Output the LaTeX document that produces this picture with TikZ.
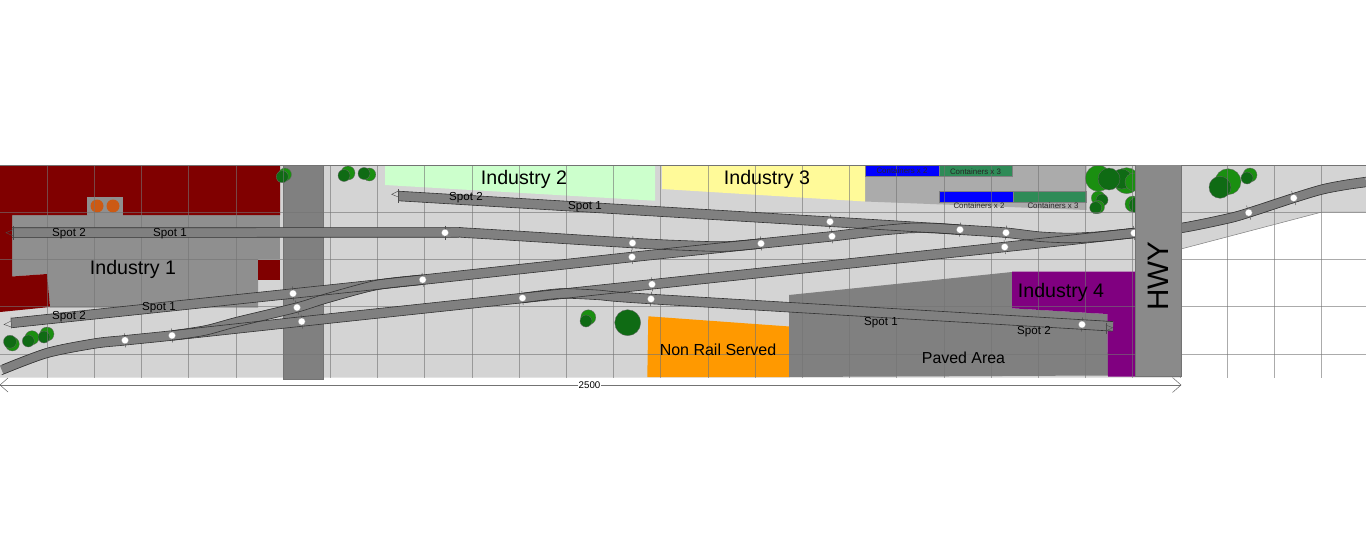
\documentclass[tikz,border=0pt]{standalone}
\usepackage{fontspec}
\setmainfont{Liberation Sans}
\definecolor{gnd}{gray}{.83}
\definecolor{roadA}{gray}{.5}
\definecolor{roadB}{gray}{.54}
\definecolor{bldg}{gray}{.56}
\definecolor{yard}{gray}{.67}
\definecolor{trk}{gray}{.5}
\definecolor{treeD}{HTML}{0F6B14}
\definecolor{treeB}{HTML}{1A8F10}
\definecolor{cgreen}{HTML}{2E8B57}
\definecolor{redB}{HTML}{800000}
\definecolor{purp}{HTML}{800080}
\definecolor{orng}{HTML}{FF9900}
\definecolor{drum}{HTML}{CC5A14}
\tikzset{
  trackfill/.style={draw=trk,line width=9.6pt,line cap=butt},
  trackline/.style={draw=black!80,line width=.6pt},
  gridline/.style={draw=gray!90!black,line width=.8pt,opacity=.6},
  tickline/.style={draw=black!70,line width=.4pt},
  dk/.style={draw=black!60,line width=.3pt,fill=treeD},
  br/.style={draw=black!60,line width=.3pt,fill=treeB},
  lab/.style={inner sep=0pt,font=\fontsize{#1}{#1}\selectfont},
}
\def\pA{plot[smooth,tension=.5] coordinates {(12,232.5) (240,232.5) (445,232.5) (470,233) (632.5,243) (685,245.5) (725,246.5) (761,243.5)}}
\def\pB{plot[smooth,tension=.3] coordinates {(11,323) (293,293.5) (422.7,279.7) (632,257) (761,243.5) (832,236.3) (880,230.5) (910,228) (935,228) (960,229.7)}}
\def\pC{plot[smooth,tension=.4] coordinates {(398.5,196) (830,221.7) (960,229.7) (1006,232.7) (1040,236.7) (1070,238) (1100,236.5) (1134,233)}}
\def\pD{plot[smooth,tension=.5] coordinates {(1.7,370) (47,353) (94.7,343.5) (125,340.3) (172,335.5) (301.7,321.5) (522.5,298) (652,284.3) (1004.7,247) (1134,233) (1181,228) (1228,218.5) (1248.7,212.7) (1293.7,198) (1322,189.5) (1345,185) (1366,182)}}
\def\pE{plot[smooth,tension=.5] coordinates {(172,335.5) (205,330.5) (236.7,322) (297,307.5) (326.7,298.3) (376.7,285) (422.7,279.7)}}
\def\pF{plot[smooth,tension=.4] coordinates {(522.5,298) (560,293.5) (600,295) (651,299) (1082,324.5) (1106,326)}}
\begin{document}
\begin{tikzpicture}[x=1pt,y=-1pt]
\useasboundingbox (0,0) rectangle (1366,543);
\fill[white] (0,0) rectangle (1366,543);
% ground
\fill[gnd] (0,165) -- (1366,165) -- (1366,212) -- (1322,212) -- (1181,249) -- (1181,377.5) -- (0,377.5) -- cycle;
% Industry 1 yard
\fill[bldg] (12,215) rectangle (280,259);
\fill[bldg] (12,259) -- (258,259) -- (258,307.5) -- (50,307.5) -- (47,274) -- (12,276.5) -- cycle;
% Industry 1
\fill[redB] (0,165) -- (280,165) -- (280,215) -- (123,215) -- (123,197) -- (87.3,197) -- (87.3,215) -- (12,215) -- (12,276.5) -- (47,274) -- (50,307) -- (0,312) -- cycle;
\fill[bldg] (87.3,197) rectangle (123,215);
\fill[redB] (258,259.5) rectangle (280,280);
\fill[drum] (97,206) circle (6.5);
\fill[drum] (113,206) circle (6.5);
% Industry 2, 3
\fill[green!20!white] (385,165) -- (655,165) -- (655,200.7) -- (385,185) -- cycle;
\fill[yard] (865,165) -- (1086.5,165) -- (1086.5,210) -- (865,201.5) -- cycle;
\fill[yellow!40!white] (662,165) -- (865,165) -- (865,201.5) -- (662,189) -- cycle;
% lower areas
\fill[orng] (648.3,316.3) -- (789.5,326.5) -- (789.5,377) -- (647.3,377) -- cycle;
\fill[roadA] (789,295) -- (1012,272) -- (1012,308.3) -- (1107.3,314) -- (1108,375.5) -- (789,377) -- cycle;
\fill[purp] (1012,271.7) -- (1135.7,271.7) -- (1135.7,376.7) -- (1108,376.7) -- (1107.3,314) -- (1012,308.3) -- cycle;
% road 1
\fill[roadA] (283.5,165) rectangle (323,379);
\draw[black!55,line width=.5pt] (283.5,165) -- (283.5,379) -- (323,379) -- (323,165);
% trees
\foreach \x/\y/\r/\s in {285/174.5/6.5/br,282.3/176.7/6/dk,348/173/7/br,344/175.5/6/dk,369.3/174.5/6.5/br,364/173.5/6/dk,
  12.3/344/7/br,10/341.7/6.5/dk,32/337.7/7/br,28.3/341/6/dk,47/334/7/br,44/337/6/dk,
  588.3/317.3/7.5/br,586/321/6/dk,627.7/322.7/13/dk,
  1098.3/178.3/13/br,1126.7/180.7/13/br,1121.7/179/10/dk,1109/179/11/dk,1134/182/9/br,
  1098.3/198/7/br,1102/200/6/dk,1098/207/6.5/br,1095.7/207.7/6/dk,1133/204/8/br,1137/205/8/dk,
  1228/181.7/13/br,1220/187.3/11/dk,1250/175/7/br,1247/178/6/dk}
  \filldraw[\s] (\x,\y) circle (\r);
% containers
\filldraw[fill=blue,draw=black!50,line width=.4pt] (865.5,165.5) rectangle (939,176.5);
\filldraw[fill=cgreen,draw=black!50,line width=.4pt] (939,165.5) rectangle (1012,176.5);
\filldraw[fill=blue,draw=black!50,line width=.4pt] (939,191) rectangle (1012.7,202.5);
\filldraw[fill=cgreen,draw=black!50,line width=.4pt] (1012.7,191) rectangle (1086,202.5);
% grid
\foreach \k in {1,...,28} \draw[gridline] ({\k*47.2},165) -- ({\k*47.2},377.5);
\foreach \y in {212,259,306.7,354.3} \draw[gridline] (0,\y) -- (1366,\y);
\draw[draw=gray!90!black,line width=.9pt] (0,165) -- (1366,165);
\draw[gray,line width=.5pt] (1181,249) -- (1322,212) -- (1366,212);
% tracks
\foreach \p in {\pA,\pB,\pC,\pD,\pE,\pF} \draw[trackfill] \p;
\foreach \p in {\pA,\pB,\pC,\pD,\pE,\pF} {
  \draw[trackline,yshift=-4.8pt] \p;
  \draw[trackline,yshift=4.8pt] \p;
}
% track ends
\draw[tickline] (13.3,226) -- (13.3,240);
\draw[tickline] (13.3,229.5) -- (6,232.7) -- (13.3,236);
\draw[tickline] (11,316.7) -- (11.5,328.3);
\draw[tickline] (11,321) -- (4,324.5) -- (11.3,327);
\draw[tickline] (398.3,189.3) -- (398.3,202.7);
\draw[tickline] (398.3,191) -- (391.7,194.3) -- (398.3,197);
\draw[tickline] (1105.7,322.7) -- (1105.7,334);
\draw[tickline] (1105.7,325) -- (1112.7,327.7) -- (1105.7,331);
% switch/spot markers
\foreach \x/\y/\s in {445/232.7/0,632.5/243/.06,632/257/-.1,761/243.5/-.1,830/221.7/.06,832/236.3/-.1,960/229.7/.06,1006/232.7/.06,1004.7/247/-.1,1134/233/-.1,422.7/279.7/-.1,293/293.5/-.1,297/307.5/-.25,301.7/321.5/-.1,125/340.3/-.1,172/335.5/-.1,522.5/298/-.1,652/284.3/-.1,651/299/.06,1082/324.5/.06,1248.7/212.7/-.3,1293.7/198/-.3}{
  \draw[tickline] ({\x+\s*7},{\y-7}) -- ({\x-\s*7},{\y+7});
  \fill[white] (\x,\y) circle (3.5);
  \draw[black!40,line width=.25pt] (\x,\y) circle (3.5);
}
% HWY
\fill[roadB] (1135.7,165) rectangle (1181,376);
\draw[black!55,line width=.5pt] (1135.7,165) -- (1135.7,376) -- (1181,376) -- (1181,165);
% labels
\node[lab=19.6] (i1) at (133,269.3) {Industry 1};
\node[lab=19.6] (i2) at (524,179.3) {Industry 2};
\node[lab=19.6] (i3) at (767,179) {Industry 3};
\node[lab=19.6] (i4) at (1061,292) {Industry 4};
\node[lab=16] (nr) at (718,350) {Non Rail Served};
\node[lab=15.9] (pa) at (963.5,357.5) {Paved Area};
\node[lab=29.6,rotate=90] (hw) at (1158.5,276) {HWY};
\node[lab=11.6] (s1) at (69,234) {Spot 2};
\node[lab=11.6] (s2) at (170,233.5) {Spot 1};
\node[lab=11.6] (s3) at (159,307.5) {Spot 1};
\node[lab=11.6] (s4) at (69,317) {Spot 2};
\node[lab=11.6] (s5) at (466,198) {Spot 2};
\node[lab=11.6] (s6) at (585,206.5) {Spot 1};
\node[lab=11.6] (s7) at (881,323) {Spot 1};
\node[lab=11.6] (s8) at (1034,332) {Spot 2};
\node[lab=7.9,text=black!85] (c1) at (902,171) {Containers x 2};
\node[lab=7.9,text=black!85] (c2) at (975.5,171.5) {Containers x 3};
\node[lab=7.9,text=black!85] (c3) at (979,205.3) {Containers x 2};
\node[lab=7.9,text=black!85] (c4) at (1053,205.3) {Containers x 3};
% dimension
\coordinate (dl) at (0,385);
\coordinate (dr) at (1181,385);
\draw[black!55,line width=.5pt] (dl) -- (dr);
\draw[black!60,line width=.5pt] (8,378) -- (dl) -- (8,392);
\draw[black!60,line width=.5pt] (1172.5,377.5) -- (dr) -- (1172.5,392.5);
\node[lab=9.7,fill=white,inner xsep=1pt] (dim) at (589.5,385) {2500};
\end{tikzpicture}
\end{document}
